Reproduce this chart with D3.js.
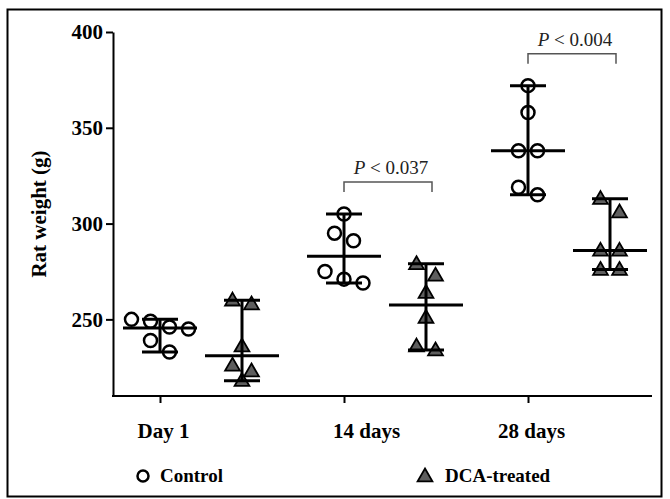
<!DOCTYPE html>
<html>
<head>
<meta charset="utf-8">
<script src="https://cdn.jsdelivr.net/npm/d3@7"></script>
<style>
  body{margin:0;background:#fff;}
  svg{display:block;}
</style>
</head>
<body>
<div id="chart"></div>
<script>
// values (rat weight, g)
const categories=["Day 1","14 days","28 days"];
const controlValues=[
    [250,246,245,249,239,233],
    [305,295,291,275,269,271],
    [372,358,338,338,319,315]
];
const dcaValues=[
    [260,258,236,226,223,218],
    [279,273,264,251,234,236],
    [313,306,286,286,276,276]
];
const yTicks=[250,300,350,400];
const pValues=[null,"0.037","0.004"];
const seriesNames=["Control","DCA-treated"];

const width=670,height=499;
const font="'Liberation Serif','Times New Roman',serif";

const svg=d3.select("#chart").append("svg")
    .attr("width",width)
    .attr("height",height);

// outer frame
svg.append("rect")
    .attr("x",7.5).attr("y",9.5)
    .attr("width",654).attr("height",487)
    .attr("fill","none")
    .attr("stroke","#000")
    .attr("stroke-width",2);

const y=d3.scaleLinear().domain([210,400]).range([396,32]);
const x=d3.scalePoint().domain(categories).range([160,528]);
const dcaShift=82;

// axes
const yAxis=svg.append("g")
    .attr("transform","translate(113,0)")
    .call(d3.axisLeft(y).tickValues(yTicks).tickSize(7).tickSizeOuter(0).tickPadding(3));
yAxis.select(".domain").attr("stroke-width",2);
yAxis.selectAll(".tick line").attr("stroke-width",2);
yAxis.selectAll("text")
    .attr("font-family",font).attr("font-weight","bold")
    .attr("font-size",21).attr("fill","#000");

svg.append("line")
    .attr("x1",112).attr("x2",652)
    .attr("y1",396).attr("y2",396)
    .attr("stroke","#000").attr("stroke-width",2);

const xAxis=svg.append("g")
    .attr("transform","translate(0,396)")
    .call(d3.axisBottom(x).tickSize(7).tickSizeOuter(0).tickPadding(0));
xAxis.select(".domain").remove();
xAxis.selectAll(".tick line").attr("stroke-width",2);
xAxis.selectAll("text")
    .attr("font-family",font).attr("font-weight","bold")
    .attr("font-size",21).attr("fill","#000")
    .attr("dy",0).attr("y",42)
    .attr("x",(d,i)=>i===1?22:3); // middle label sits off its tick in the original

svg.append("text")
    .attr("transform","translate(46,214) rotate(-90)")
    .attr("text-anchor","middle")
    .attr("font-family",font).attr("font-weight","bold")
    .attr("font-size",21)
    .text("Rat weight (g)");

// simple row-based scatter spread, like Prism
function spread(vals,cx){
    const sorted=vals.map((v,i)=>({v,i})).sort((a,b)=>b.v-a.v);
    const out=[];
    let group=[];
    const flush=()=>{
        const n=group.length;
        group.forEach((p,k)=>out.push({v:p.v,x:cx+(k-(n-1)/2)*19,y:y(p.v)}));
        group=[];
    };
    sorted.forEach(p=>{
        if(group.length&&y(p.v)-y(group[0].v)>=15) flush();
        group.push(p);
    });
    flush();
    return out;
}

const groups=[];
categories.forEach((c,i)=>{
    groups.push({series:0,cx:x(c),vals:controlValues[i]});
    groups.push({series:1,cx:x(c)+dcaShift,vals:dcaValues[i]});
});

const tri=d3.symbol().type(d3.symbolTriangle).size(95);

const pts=svg.append("g");
groups.forEach(g=>{
    const p=spread(g.vals,g.cx);
    if(g.series===0){
        pts.selectAll(null).data(p).join("circle")
            .attr("cx",d=>d.x).attr("cy",d=>d.y)
            .attr("r",6.5)
            .attr("fill","none")
            .attr("stroke","#000").attr("stroke-width",2.5);
    }else{
        pts.selectAll(null).data(p).join("path")
            .attr("d",tri)
            .attr("transform",d=>`translate(${d.x},${d.y+1})`)
            .attr("fill","#5e5e5e")
            .attr("stroke","#000").attr("stroke-width",1.8);
    }
});

// median with range
const bars=svg.append("g").attr("stroke","#000").attr("stroke-width",3);
groups.forEach(g=>{
    const med=d3.median(g.vals),lo=d3.min(g.vals),hi=d3.max(g.vals);
    bars.append("line").attr("x1",g.cx).attr("x2",g.cx).attr("y1",y(lo)).attr("y2",y(hi));
    bars.append("line").attr("x1",g.cx-37).attr("x2",g.cx+37).attr("y1",y(med)).attr("y2",y(med));
    bars.append("line").attr("x1",g.cx-18).attr("x2",g.cx+18).attr("y1",y(lo)).attr("y2",y(lo));
    bars.append("line").attr("x1",g.cx-18).attr("x2",g.cx+18).attr("y1",y(hi)).attr("y2",y(hi));
});

// significance brackets
categories.forEach((c,i)=>{
    if(!pValues[i]) return;
    const x0=x(c),x1=x(c)+dcaShift+6;
    const by=y(d3.max(controlValues[i]))-32;
    svg.append("path")
        .attr("d",`M${x0},${by+10}V${by}H${x1}V${by+10}`)
        .attr("fill","none").attr("stroke","#555").attr("stroke-width",1.5);
    const t=svg.append("text")
        .attr("x",(x0+x1)/2+3).attr("y",by-8)
        .attr("text-anchor","middle")
        .attr("font-family",font).attr("font-size",19)
        .attr("fill","#222");
    t.append("tspan").attr("font-style","italic").text("P");
    t.append("tspan").text(" < "+pValues[i]);
});

// legend
const leg=svg.append("g").attr("font-family",font).attr("font-weight","bold").attr("font-size",19);
leg.append("circle").attr("cx",143).attr("cy",476).attr("r",5.5)
    .attr("fill","none").attr("stroke","#000").attr("stroke-width",2.5);
leg.append("text").attr("x",160).attr("y",482).text(seriesNames[0]);
leg.append("path").attr("d",tri).attr("transform","translate(425,477)")
    .attr("fill","#5e5e5e").attr("stroke","#000").attr("stroke-width",1.8);
leg.append("text").attr("x",445).attr("y",482).text(seriesNames[1]);
</script>
</body>
</html>
